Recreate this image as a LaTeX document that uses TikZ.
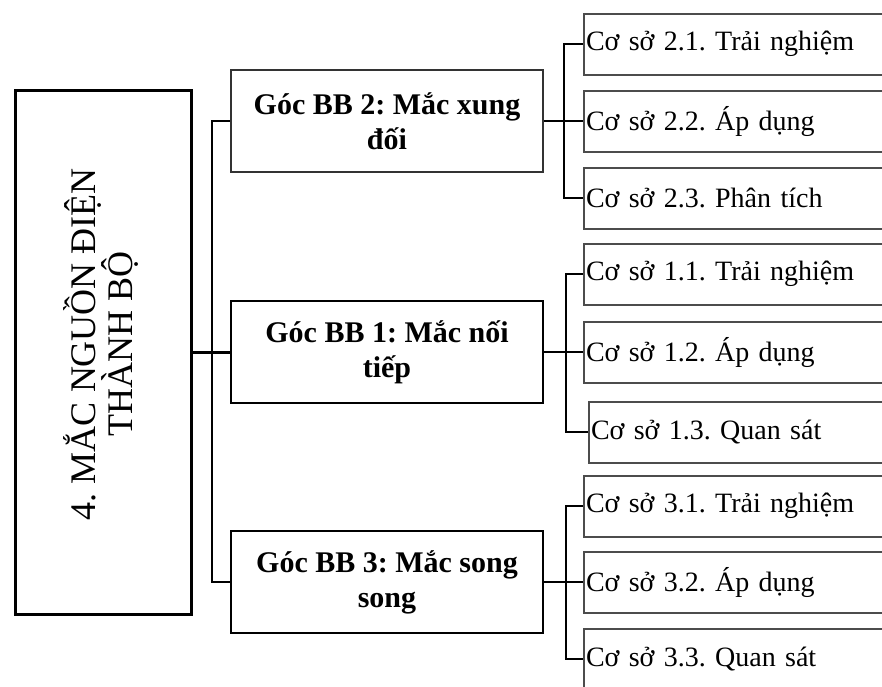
\documentclass[tikz,border=0pt]{standalone}
\usepackage{fontspec}
\setmainfont{Liberation Serif}
\usepackage{tikz}
\usetikzlibrary{positioning}
\frenchspacing

\begin{document}
\begin{tikzpicture}[x=1pt,y=-1pt,
  topbox/.style={draw=black,line width=3pt,minimum width=176pt,minimum height=524pt,inner sep=0pt},
  tlabel/.style={rotate=90,align=center,font=\fontsize{36}{37}\selectfont},
  midbox/.style={draw=black,line width=2.6pt,fill=white,minimum width=312pt,minimum height=102pt,
    align=center,font=\bfseries\fontsize{30}{35}\selectfont},
  leaf/.style={draw=black!70,line width=2pt,anchor=west,minimum height=61pt,text width=330pt,
    align=left,inner xsep=2pt,font=\fontsize{28}{30}\selectfont},
  link/.style={line width=2pt}]

  \clip (0,0) rectangle (882,686);
  \fill[white] (0,0) rectangle (882,686);

  % main topic
  \node[topbox] (main) at (103,352) {};
  \node[tlabel] (mainlbl) at (101,344) {4. MẮC NGUỒN ĐIỆN\\THÀNH BỘ};

  % corners
  \node[midbox,draw=black!80,line width=2.2pt] (b2) at (387,121) {Góc BB 2: Mắc xung\\đối};
  \node[midbox] (b1) at (387,352) {Góc BB 1: Mắc nối\\tiếp};
  \node[midbox] (b3) at (387,582) {Góc BB 3: Mắc song\\song};

  % stations
  \node[leaf] (l21) at (583,44)  {Cơ sở 2.1. Trải nghiệm};
  \node[leaf] (l22) at (583,121) {Cơ sở 2.2. Áp dụng};
  \node[leaf] (l23) at (583,198) {Cơ sở 2.3. Phân tích};
  \node[leaf] (l11) at (583,274) {Cơ sở 1.1. Trải nghiệm};
  \node[leaf] (l12) at (583,352) {Cơ sở 1.2. Áp dụng};
  \node[leaf] (l13) at (588,432) {Cơ sở 1.3. Quan sát};
  \node[leaf] (l31) at (583,506) {Cơ sở 3.1. Trải nghiệm};
  \node[leaf] (l32) at (583,582) {Cơ sở 3.2. Áp dụng};
  \node[leaf] (l33) at (583,659) {Cơ sở 3.3. Quan sát};

  % connectors
  \coordinate (tk) at (212,352);
  \draw[link,line width=3pt] (main.east) -- (b1.west);
  \draw[link] (tk) |- (b2.west);
  \draw[link] (tk) |- (b3.west);

  \draw[link] (b2.east) -- ++(20,0) coordinate (r2);
  \draw[link] (b1.east) -- ++(22,0) coordinate (r1);
  \draw[link] (b3.east) -- ++(22,0) coordinate (r3);
  \foreach \l in {l21,l22,l23} \draw[link] (r2) |- (\l.west);
  \foreach \l in {l11,l12,l13} \draw[link] (r1) |- (\l.west);
  \foreach \l in {l31,l32,l33} \draw[link] (r3) |- (\l.west);
\end{tikzpicture}
\end{document}
